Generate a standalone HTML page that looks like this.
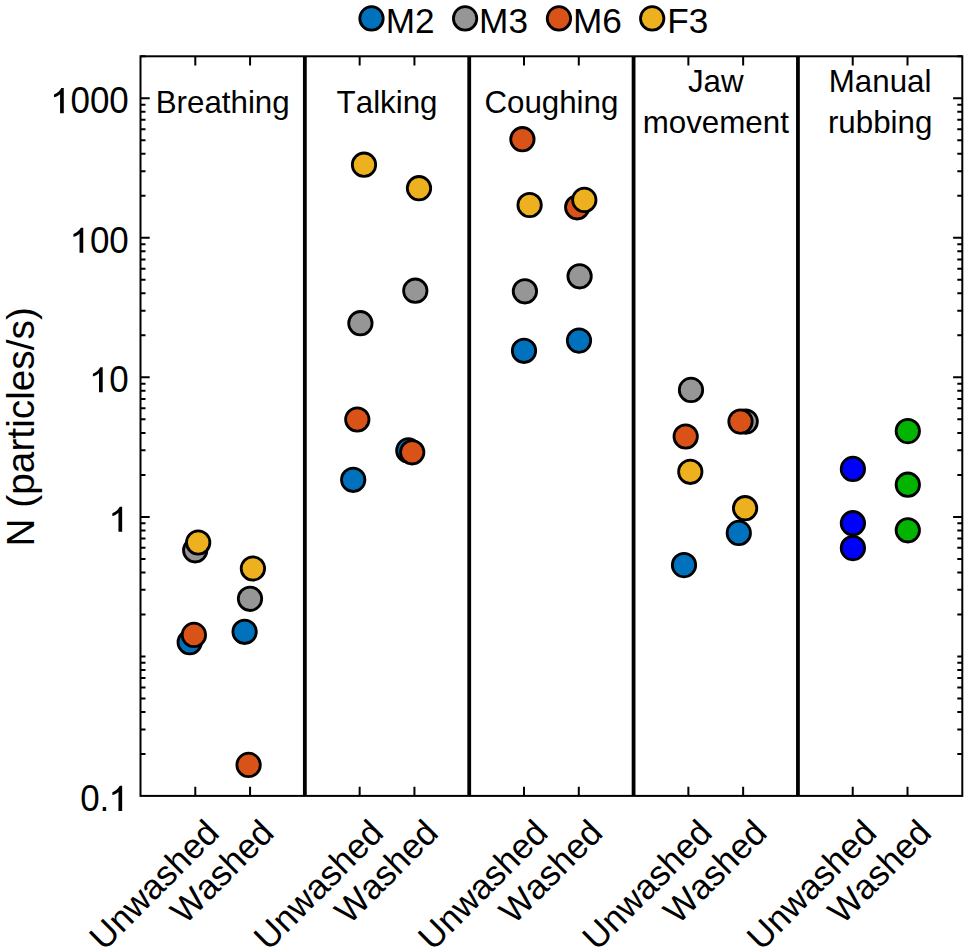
<!DOCTYPE html>
<html><head><meta charset="utf-8"><style>
html,body{margin:0;padding:0;background:#fff;}
body{width:968px;height:952px;position:relative;overflow:hidden;font-family:"Liberation Sans",sans-serif;}
</style></head><body>
<svg width="968" height="952" viewBox="0 0 968 952" style="position:absolute;left:0;top:0;font-kerning:none">
<rect width="100%" height="100%" fill="#fff"/>
<path d="M140.5,98.25H149.7M962.3,98.25H953.0999999999999M140.5,237.80H149.7M962.3,237.80H953.0999999999999M140.5,377.35H149.7M962.3,377.35H953.0999999999999M140.5,516.90H149.7M962.3,516.90H953.0999999999999M140.5,753.99H145.5M962.3,753.99H957.3M140.5,729.42H145.5M962.3,729.42H957.3M140.5,711.98H145.5M962.3,711.98H957.3M140.5,698.46H145.5M962.3,698.46H957.3M140.5,687.41H145.5M962.3,687.41H957.3M140.5,678.07H145.5M962.3,678.07H957.3M140.5,669.97H145.5M962.3,669.97H957.3M140.5,662.84H145.5M962.3,662.84H957.3M140.5,656.45H145.5M962.3,656.45H957.3M140.5,614.44H145.5M962.3,614.44H957.3M140.5,589.87H145.5M962.3,589.87H957.3M140.5,572.43H145.5M962.3,572.43H957.3M140.5,558.91H145.5M962.3,558.91H957.3M140.5,547.86H145.5M962.3,547.86H957.3M140.5,538.52H145.5M962.3,538.52H957.3M140.5,530.42H145.5M962.3,530.42H957.3M140.5,523.29H145.5M962.3,523.29H957.3M140.5,474.89H145.5M962.3,474.89H957.3M140.5,450.32H145.5M962.3,450.32H957.3M140.5,432.88H145.5M962.3,432.88H957.3M140.5,419.36H145.5M962.3,419.36H957.3M140.5,408.31H145.5M962.3,408.31H957.3M140.5,398.97H145.5M962.3,398.97H957.3M140.5,390.87H145.5M962.3,390.87H957.3M140.5,383.74H145.5M962.3,383.74H957.3M140.5,335.34H145.5M962.3,335.34H957.3M140.5,310.77H145.5M962.3,310.77H957.3M140.5,293.33H145.5M962.3,293.33H957.3M140.5,279.81H145.5M962.3,279.81H957.3M140.5,268.76H145.5M962.3,268.76H957.3M140.5,259.42H145.5M962.3,259.42H957.3M140.5,251.32H145.5M962.3,251.32H957.3M140.5,244.19H145.5M962.3,244.19H957.3M140.5,195.79H145.5M962.3,195.79H957.3M140.5,171.22H145.5M962.3,171.22H957.3M140.5,153.78H145.5M962.3,153.78H957.3M140.5,140.26H145.5M962.3,140.26H957.3M140.5,129.21H145.5M962.3,129.21H957.3M140.5,119.87H145.5M962.3,119.87H957.3M140.5,111.77H145.5M962.3,111.77H957.3M140.5,104.64H145.5M962.3,104.64H957.3M140.5,56.24H145.5M962.3,56.24H957.3M195.29,795.9V786.6999999999999M195.29,56.3V65.5M250.07,795.9V786.6999999999999M250.07,56.3V65.5M359.65,795.9V786.6999999999999M359.65,56.3V65.5M414.43,795.9V786.6999999999999M414.43,56.3V65.5M524.01,795.9V786.6999999999999M524.01,56.3V65.5M578.79,795.9V786.6999999999999M578.79,56.3V65.5M688.37,795.9V786.6999999999999M688.37,56.3V65.5M743.15,795.9V786.6999999999999M743.15,56.3V65.5M852.73,795.9V786.6999999999999M852.73,56.3V65.5M907.51,795.9V786.6999999999999M907.51,56.3V65.5" stroke="#000" stroke-width="2.0" fill="none"/>
<line x1="304.86" y1="56.3" x2="304.86" y2="795.9" stroke="#000" stroke-width="3.8"/>
<line x1="469.22" y1="56.3" x2="469.22" y2="795.9" stroke="#000" stroke-width="3.8"/>
<line x1="633.58" y1="56.3" x2="633.58" y2="795.9" stroke="#000" stroke-width="3.8"/>
<line x1="797.94" y1="56.3" x2="797.94" y2="795.9" stroke="#000" stroke-width="3.8"/>
<rect x="140.5" y="56.3" width="821.80" height="739.60" fill="none" stroke="#000" stroke-width="2.0"/>
<path transform="translate(50.96,113.15) scale(0.017090,-0.017090)" d="M750,0L534,0L534,1112Q440,1030 330,975Q250,940 176,924L176,1088Q330,1150 440,1250Q560,1360 611,1466L750,1466Z" fill="#000"/>
<text transform="translate(70.42,113.15) scale(1,1.045)" font-family="Liberation Sans, sans-serif" font-size="35" text-anchor="start">0</text>
<text transform="translate(89.88,113.15) scale(1,1.045)" font-family="Liberation Sans, sans-serif" font-size="35" text-anchor="start">0</text>
<text transform="translate(109.34,113.15) scale(1,1.045)" font-family="Liberation Sans, sans-serif" font-size="35" text-anchor="start">0</text>
<path transform="translate(70.42,252.70) scale(0.017090,-0.017090)" d="M750,0L534,0L534,1112Q440,1030 330,975Q250,940 176,924L176,1088Q330,1150 440,1250Q560,1360 611,1466L750,1466Z" fill="#000"/>
<text transform="translate(89.88,252.70) scale(1,1.045)" font-family="Liberation Sans, sans-serif" font-size="35" text-anchor="start">0</text>
<text transform="translate(109.34,252.70) scale(1,1.045)" font-family="Liberation Sans, sans-serif" font-size="35" text-anchor="start">0</text>
<path transform="translate(89.88,392.25) scale(0.017090,-0.017090)" d="M750,0L534,0L534,1112Q440,1030 330,975Q250,940 176,924L176,1088Q330,1150 440,1250Q560,1360 611,1466L750,1466Z" fill="#000"/>
<text transform="translate(109.34,392.25) scale(1,1.045)" font-family="Liberation Sans, sans-serif" font-size="35" text-anchor="start">0</text>
<path transform="translate(109.34,531.80) scale(0.017090,-0.017090)" d="M750,0L534,0L534,1112Q440,1030 330,975Q250,940 176,924L176,1088Q330,1150 440,1250Q560,1360 611,1466L750,1466Z" fill="#000"/>
<text transform="translate(80.15,810.90) scale(1,1.045)" font-family="Liberation Sans, sans-serif" font-size="35" text-anchor="start">0</text>
<text transform="translate(99.61,810.90) scale(1,1.045)" font-family="Liberation Sans, sans-serif" font-size="35" text-anchor="start">.</text>
<path transform="translate(109.34,810.90) scale(0.017090,-0.017090)" d="M750,0L534,0L534,1112Q440,1030 330,975Q250,940 176,924L176,1088Q330,1150 440,1250Q560,1360 611,1466L750,1466Z" fill="#000"/>
<text transform="translate(34.30,426.80) rotate(-90) scale(1,1.0)" font-family="Liberation Sans, sans-serif" font-size="38.8" text-anchor="middle">N (particles/s)</text>
<text transform="translate(222.68,112.60) scale(1,1.0)" font-family="Liberation Sans, sans-serif" font-size="31.3" text-anchor="middle">Breathing</text>
<text transform="translate(387.04,112.60) scale(1,1.0)" font-family="Liberation Sans, sans-serif" font-size="31.3" text-anchor="middle">Talking</text>
<text transform="translate(551.40,112.60) scale(1,1.0)" font-family="Liberation Sans, sans-serif" font-size="31.3" text-anchor="middle">Coughing</text>
<text transform="translate(715.76,91.60) scale(1,1.0)" font-family="Liberation Sans, sans-serif" font-size="31.3" text-anchor="middle">Jaw</text>
<text transform="translate(715.76,132.60) scale(1,1.0)" font-family="Liberation Sans, sans-serif" font-size="31.3" text-anchor="middle">movement</text>
<text transform="translate(880.12,91.60) scale(1,1.0)" font-family="Liberation Sans, sans-serif" font-size="31.3" text-anchor="middle">Manual</text>
<text transform="translate(880.12,132.60) scale(1,1.0)" font-family="Liberation Sans, sans-serif" font-size="31.3" text-anchor="middle">rubbing</text>
<text transform="translate(220.99,834.80) rotate(-45) scale(1,1.0)" font-family="Liberation Sans, sans-serif" font-size="35" text-anchor="end">Unwashed</text>
<text transform="translate(275.77,834.80) rotate(-45) scale(1,1.0)" font-family="Liberation Sans, sans-serif" font-size="35" text-anchor="end">Washed</text>
<text transform="translate(385.35,834.80) rotate(-45) scale(1,1.0)" font-family="Liberation Sans, sans-serif" font-size="35" text-anchor="end">Unwashed</text>
<text transform="translate(440.13,834.80) rotate(-45) scale(1,1.0)" font-family="Liberation Sans, sans-serif" font-size="35" text-anchor="end">Washed</text>
<text transform="translate(549.71,834.80) rotate(-45) scale(1,1.0)" font-family="Liberation Sans, sans-serif" font-size="35" text-anchor="end">Unwashed</text>
<text transform="translate(604.49,834.80) rotate(-45) scale(1,1.0)" font-family="Liberation Sans, sans-serif" font-size="35" text-anchor="end">Washed</text>
<text transform="translate(714.07,834.80) rotate(-45) scale(1,1.0)" font-family="Liberation Sans, sans-serif" font-size="35" text-anchor="end">Unwashed</text>
<text transform="translate(768.85,834.80) rotate(-45) scale(1,1.0)" font-family="Liberation Sans, sans-serif" font-size="35" text-anchor="end">Washed</text>
<text transform="translate(878.43,834.80) rotate(-45) scale(1,1.0)" font-family="Liberation Sans, sans-serif" font-size="35" text-anchor="end">Unwashed</text>
<text transform="translate(933.21,834.80) rotate(-45) scale(1,1.0)" font-family="Liberation Sans, sans-serif" font-size="35" text-anchor="end">Washed</text>
<circle cx="189.7" cy="642.2" r="11.7" fill="#0072BD" stroke="#000" stroke-width="2.8"/>
<circle cx="195.2" cy="550.3" r="11.7" fill="#969696" stroke="#000" stroke-width="2.8"/>
<circle cx="193.9" cy="634.9" r="11.7" fill="#D95319" stroke="#000" stroke-width="2.8"/>
<circle cx="198.2" cy="542.5" r="11.7" fill="#EDB120" stroke="#000" stroke-width="2.8"/>
<circle cx="244.6" cy="631.8" r="11.7" fill="#0072BD" stroke="#000" stroke-width="2.8"/>
<circle cx="250.0" cy="598.8" r="11.7" fill="#969696" stroke="#000" stroke-width="2.8"/>
<circle cx="248.6" cy="764.9" r="11.7" fill="#D95319" stroke="#000" stroke-width="2.8"/>
<circle cx="252.9" cy="568.5" r="11.7" fill="#EDB120" stroke="#000" stroke-width="2.8"/>
<circle cx="353.2" cy="479.8" r="11.7" fill="#0072BD" stroke="#000" stroke-width="2.8"/>
<circle cx="360.4" cy="323.2" r="11.7" fill="#969696" stroke="#000" stroke-width="2.8"/>
<circle cx="357.3" cy="419.5" r="11.7" fill="#D95319" stroke="#000" stroke-width="2.8"/>
<circle cx="364.0" cy="164.7" r="11.7" fill="#EDB120" stroke="#000" stroke-width="2.8"/>
<circle cx="408.3" cy="450.4" r="11.7" fill="#0072BD" stroke="#000" stroke-width="2.8"/>
<circle cx="415.3" cy="290.7" r="11.7" fill="#969696" stroke="#000" stroke-width="2.8"/>
<circle cx="412.2" cy="452.3" r="11.7" fill="#D95319" stroke="#000" stroke-width="2.8"/>
<circle cx="419.0" cy="188.2" r="11.7" fill="#EDB120" stroke="#000" stroke-width="2.8"/>
<circle cx="524.0" cy="350.8" r="11.7" fill="#0072BD" stroke="#000" stroke-width="2.8"/>
<circle cx="524.9" cy="291.3" r="11.7" fill="#969696" stroke="#000" stroke-width="2.8"/>
<circle cx="522.4" cy="139.2" r="11.7" fill="#D95319" stroke="#000" stroke-width="2.8"/>
<circle cx="529.6" cy="205.0" r="11.7" fill="#EDB120" stroke="#000" stroke-width="2.8"/>
<circle cx="579.0" cy="340.6" r="11.7" fill="#0072BD" stroke="#000" stroke-width="2.8"/>
<circle cx="579.6" cy="276.3" r="11.7" fill="#969696" stroke="#000" stroke-width="2.8"/>
<circle cx="577.2" cy="207.3" r="11.7" fill="#D95319" stroke="#000" stroke-width="2.8"/>
<circle cx="584.3" cy="199.9" r="11.7" fill="#EDB120" stroke="#000" stroke-width="2.8"/>
<circle cx="684.0" cy="565.1" r="11.7" fill="#0072BD" stroke="#000" stroke-width="2.8"/>
<circle cx="691.0" cy="389.9" r="11.7" fill="#969696" stroke="#000" stroke-width="2.8"/>
<circle cx="685.7" cy="436.5" r="11.7" fill="#D95319" stroke="#000" stroke-width="2.8"/>
<circle cx="690.3" cy="471.8" r="11.7" fill="#EDB120" stroke="#000" stroke-width="2.8"/>
<circle cx="738.8" cy="532.9" r="11.7" fill="#0072BD" stroke="#000" stroke-width="2.8"/>
<circle cx="745.7" cy="421.6" r="11.7" fill="#969696" stroke="#000" stroke-width="2.8"/>
<circle cx="740.5" cy="421.6" r="11.7" fill="#D95319" stroke="#000" stroke-width="2.8"/>
<circle cx="745.1" cy="508.2" r="11.7" fill="#EDB120" stroke="#000" stroke-width="2.8"/>
<circle cx="852.9" cy="468.9" r="11.7" fill="#0000FF" stroke="#000" stroke-width="2.8"/>
<circle cx="852.9" cy="523.2" r="11.7" fill="#0000FF" stroke="#000" stroke-width="2.8"/>
<circle cx="852.9" cy="548.1" r="11.7" fill="#0000FF" stroke="#000" stroke-width="2.8"/>
<circle cx="907.8" cy="431.1" r="11.7" fill="#00B400" stroke="#000" stroke-width="2.8"/>
<circle cx="907.8" cy="484.7" r="11.7" fill="#00B400" stroke="#000" stroke-width="2.8"/>
<circle cx="907.8" cy="530.3" r="11.7" fill="#00B400" stroke="#000" stroke-width="2.8"/>
<circle cx="371.5" cy="18.4" r="11.7" fill="#0072BD" stroke="#000" stroke-width="2.8"/>
<text transform="translate(385.81,32.60) scale(1,1.0)" font-family="Liberation Sans, sans-serif" font-size="35.2" text-anchor="start">M2</text>
<circle cx="465.1" cy="18.4" r="11.7" fill="#969696" stroke="#000" stroke-width="2.8"/>
<text transform="translate(479.11,32.60) scale(1,1.0)" font-family="Liberation Sans, sans-serif" font-size="35.2" text-anchor="start">M3</text>
<circle cx="558.95" cy="18.4" r="11.7" fill="#D95319" stroke="#000" stroke-width="2.8"/>
<text transform="translate(573.06,32.60) scale(1,1.0)" font-family="Liberation Sans, sans-serif" font-size="35.2" text-anchor="start">M6</text>
<circle cx="652.2" cy="18.4" r="11.7" fill="#EDB120" stroke="#000" stroke-width="2.8"/>
<text transform="translate(667.21,32.60) scale(1,1.0)" font-family="Liberation Sans, sans-serif" font-size="35.2" text-anchor="start">F3</text>
</svg>
</body></html>
